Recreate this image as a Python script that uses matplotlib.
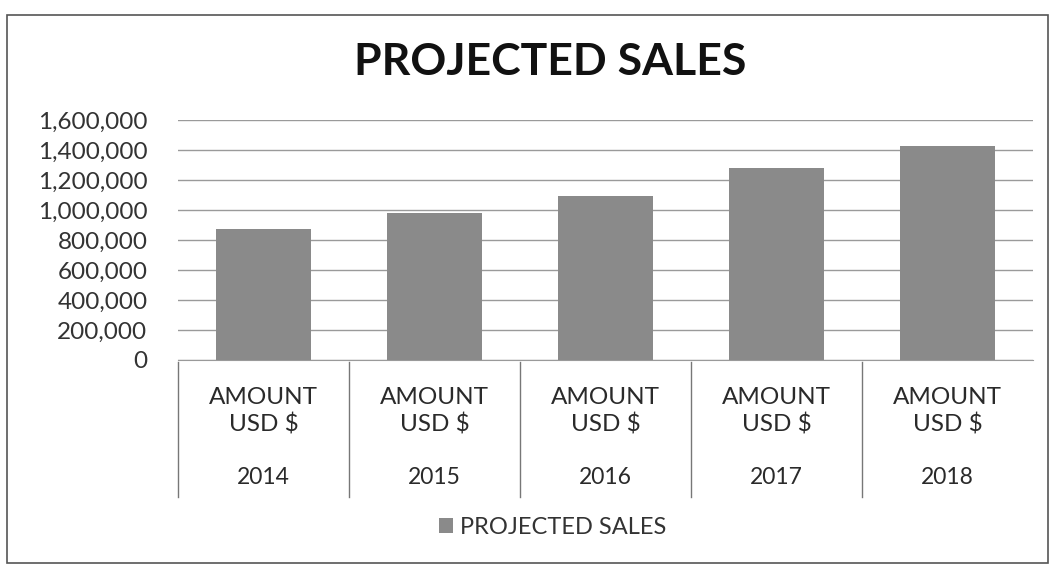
# grafik proyeksi penjualan
import matplotlib.pyplot as plt
import matplotlib.transforms as mtransforms
from matplotlib.patches import Rectangle
from matplotlib.ticker import FuncFormatter

# data dari gambar
tahun = ["2014", "2015", "2016", "2017", "2018"]
label_atas = ["AMOUNT\nUSD $"] * 5
penjualan = [875000, 980000, 1095000, 1280000, 1425000]
seri = "PROJECTED SALES"

plt.rcParams['font.family'] = ['Lato', 'DejaVu Sans']

W, H = 1053, 568
fig = plt.figure(figsize=(W / 100, H / 100), dpi=100)
ax = fig.add_axes([178 / W, 1 - 360 / H, (1033 - 178) / W, (360 - 120) / H])

x = list(range(len(tahun)))
ax.bar(x, penjualan, width=0.56, color="#8a8a8a", label=seri, zorder=2)

ax.set_ylim(0, 1600000)
ax.set_xlim(-0.5, len(tahun) - 0.5)
ax.set_yticks(range(0, 1600001, 200000))
ax.yaxis.set_major_formatter(FuncFormatter(lambda v, p: f"{int(v):,}"))
ax.tick_params(axis="y", length=0, pad=22, labelsize=17.5, labelcolor="#333333")
ax.set_xticks([])
ax.grid(axis="y", color="#9a9a9a", linewidth=1, zorder=0)
for s in ["left", "right", "top"]:
    ax.spines[s].set_visible(False)
ax.spines["bottom"].set_color("#9a9a9a")

# label kategori bertingkat
tr = mtransforms.blended_transform_factory(ax.transData, fig.transFigure)
for i in x:
    ax.text(i, 1 - 411 / H, label_atas[i], transform=tr, ha="center", va="center",
            fontsize=17.5, color="#2a2a2a", linespacing=1.3)
    ax.text(i, 1 - 478 / H, tahun[i], transform=tr, ha="center", va="center",
            fontsize=16.5, color="#2a2a2a")
for b in range(len(tahun)):
    ax.plot([b - 0.5, b - 0.5], [1 - 362 / H, 1 - 497 / H], transform=tr,
            color="#777777", linewidth=1, clip_on=False)

fig.suptitle("PROJECTED SALES", x=550 / W, y=1 - 62 / H, va="center",
             fontsize=32, fontweight="bold", color="#111111")

fig.legend(loc="center", bbox_to_anchor=(553 / W, 1 - 527 / H), frameon=False,
           fontsize=17, handlelength=0.6, handleheight=0.6, handletextpad=0.3,
           labelcolor="#333333")

# bingkai grafik
fig.add_artist(Rectangle((7 / W, 1 - 563 / H), (1048 - 7) / W, (563 - 15) / H,
                         transform=fig.transFigure, fill=False,
                         edgecolor="#555555", linewidth=1.2))

fig.savefig("out.png", dpi=100)
